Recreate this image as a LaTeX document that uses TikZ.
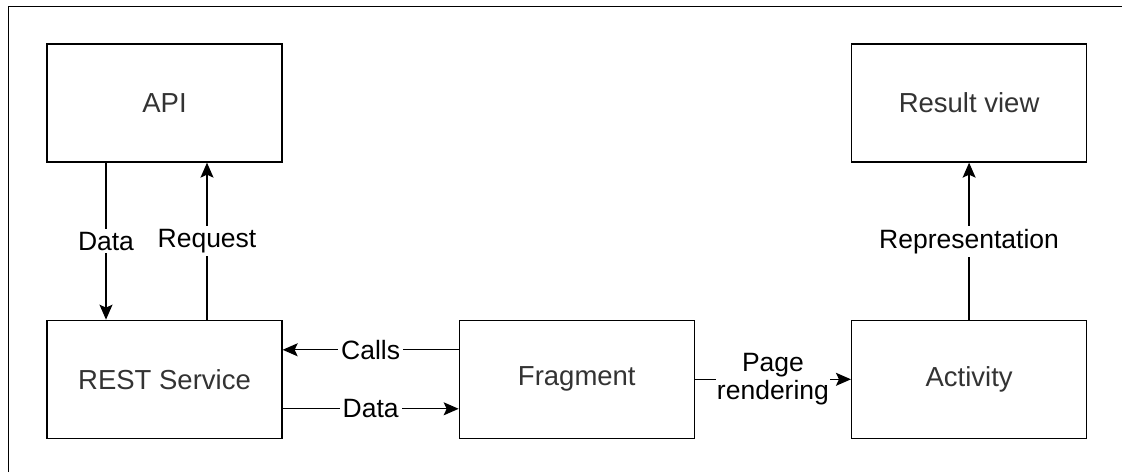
\documentclass[tikz,border=0pt]{standalone}
\usepackage{fontspec}
\setmainfont{Liberation Sans}
\usetikzlibrary{positioning,arrows.meta}

\begin{document}
\begin{tikzpicture}[x=1pt,y=-1pt,line width=1.3pt,
            >={Stealth[length=15pt,width=13pt,inset=3pt]},
            font=\fontsize{26.5}{30}\selectfont]
            \tikzstyle{block}=[draw,minimum width=235pt,minimum height=118pt,inner sep=0pt,text=black!80,font=\fontsize{27.5}{30}\selectfont]
            \tikzstyle{lbl}=[fill=white,inner sep=3pt,text=black]
            \useasboundingbox (0,0) rectangle (1122,472);
            \draw[line width=1pt] (8,472) -- (8,6) -- (1122,6);
            % boxes
            \node[block] (api) at (164.5,103) {API};
            \node[block,below=157pt of api] (rest) {REST Service};
            \node[block,right=176pt of rest] (frag) {Fragment};
            \node[block,right=156pt of frag] (act) {Activity};
            \node[block,above=157pt of act] (res) {Result view};
            % connectors
            \draw[->] ([xshift=-58.5pt]api.south) -- node[lbl]{Data} ([xshift=-58.5pt]rest.north);
            \draw[->] ([xshift=42.5pt]rest.north) -- node[lbl]{Request} ([xshift=42.5pt]api.south);
            \draw[->] ([yshift=29.5pt]frag.west) -- node[lbl]{Calls} ([yshift=29.5pt]rest.east);
            \draw[->] ([yshift=-29.5pt]rest.east) -- node[lbl]{Data} ([yshift=-29.5pt]frag.west);
            \draw[->] (frag.east) -- node[lbl,align=center,inner sep=1pt,font=\fontsize{26.5}{28}\selectfont]{Page\\rendering} (act.west);
            \draw[->] (act.north) -- node[lbl]{Representation} (res.south);
        \end{tikzpicture}
\end{document}
